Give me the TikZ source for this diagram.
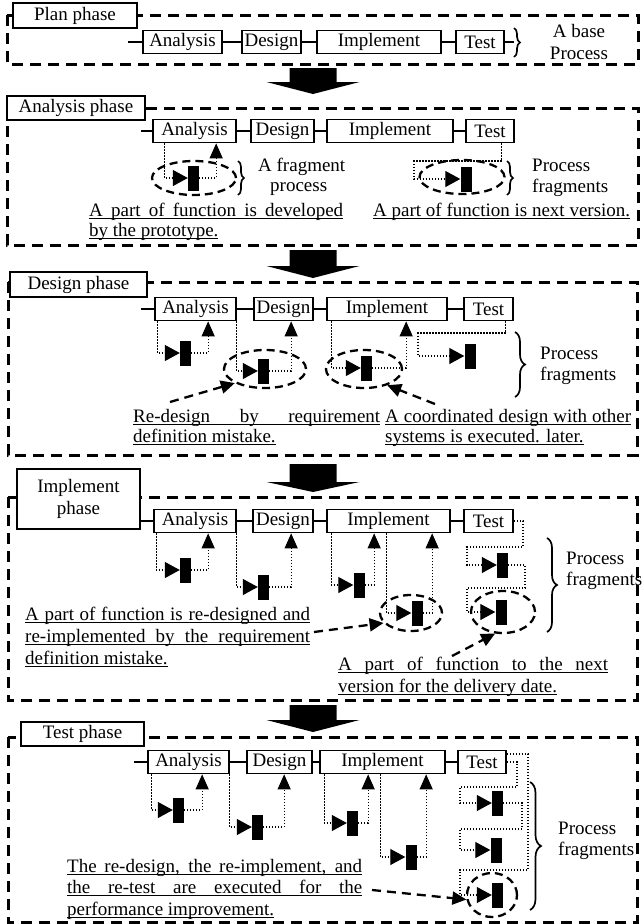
\documentclass[tikz,border=0pt]{standalone}
\usepackage{fontspec}
\setmainfont{Liberation Serif}
\usetikzlibrary{arrows.meta,shapes.geometric,decorations.pathreplacing}

% underlined text: natural width, or stretched to a given width
\newsavebox\ulinebox
\newcommand\ulline[1]{\sbox\ulinebox{#1}\usebox\ulinebox\llap{\rule[-2.7pt]{\wd\ulinebox}{0.9pt}}}
\newcommand\uljust[2]{\ulline{\makebox[#1][s]{#2}}}

% process step box: name, left x, right x, centre y, text
\newcommand\procbox[5]{\node[pbox, minimum width={(#3-#2)*1pt}] (#1) at ({(#2+#3)/2},#4) {#5};}
% phase title box: name, left x, right x, top y, bottom y, text
\newcommand\phasebox[6]{\node[ptitle, minimum width={(#3-#2)*1pt}, minimum height={(#5-#4)*1pt}] (#1) at ({(#2+#3)/2},{(#4+#5)/2}) {#6};}
% thick block arrow between phases: top y, shoulder y, tip y
\newcommand\bigdown[3]{\fill (289.5,#1) -- (336.5,#1) -- (336.5,#2) -- (359.5,#2) -- (313,#3) -- (266.5,#2) -- (289.5,#2) -- cycle;}

\tikzset{
  panelframe/.style={draw, line width=3pt, dash pattern=on 11pt off 7pt},
  ptitle/.style={draw, line width=2.6pt, fill=white, inner sep=0pt, align=center},
  pbox/.style={draw, line width=1.7pt, fill=white, inner sep=0pt, minimum height=23pt},
  link/.style={line width=1.4pt},
  dotln/.style={line width=1.2pt, dash pattern=on 1.2pt off 1.8pt},
  upto/.style={dotln, -{Triangle[length=15pt,width=13pt]}},
  intobar/.style={dotln, -{Triangle[length=15pt,width=16pt]}},
  bar/.style={fill=black, inner sep=0pt, minimum width=11pt, minimum height=25pt},
  focus/.style={draw, ellipse, line width=2.3pt, dash pattern=on 8pt off 5pt, inner sep=0pt},
  pointer/.style={line width=2.3pt, dash pattern=on 9pt off 6pt, -{Triangle[length=14pt,width=13pt]}},
  brc/.style={decorate, decoration={brace, amplitude=#1}, line width=1.7pt},
  brc/.default=8pt,
  note/.style={anchor=base west, inner sep=0pt},
  lbl/.style={anchor=west, align=left, inner sep=0pt},
}

\begin{document}
\begin{tikzpicture}[x=1pt, y=-1pt, font=\fontsize{19}{21.5}\selectfont]
\path[use as bounding box] (0,0) rectangle (643,924);

% ---------------- Plan phase ----------------
\draw[panelframe] (7,15) rectangle (638,64);
\phasebox{ttl1}{13}{137}{3}{28}{Plan phase}
\procbox{a1}{143}{222}{42}{Analysis}
\procbox{d1}{242}{301}{42}{Design}
\procbox{i1}{317}{441}{42}{Implement}
\procbox{t1}{456}{504}{42}{Test}
\draw[link] (a1.west) -- ++(-14,0);
\draw[link] (a1.east) -- (d1.west);
\draw[link] (d1.east) -- (i1.west);
\draw[link] (i1.east) -- (t1.west);
\coordinate (br1) at (514,42);
\draw[link] (t1.east) -- (br1);
\draw[brc=6pt] (514,28) -- (514,57);
\node[align=center, inner sep=0pt] (l1) at (579,42) {A base\\Process};

% ---------------- Analysis phase ----------------
\bigdown{68}{82}{94}
\draw[panelframe] (7,108) rectangle (638,245);
\phasebox{ttl2}{7}{145}{96}{120}{Analysis phase}
\procbox{a2}{153}{236}{131}{Analysis}
\procbox{d2}{251}{314}{131}{Design}
\procbox{i2}{327}{453}{131}{Implement}
\procbox{t2}{466}{514}{131}{Test}
\draw[link] (a2.west) -- ++(-11,0);
\draw[link] (a2.east) -- (d2.west);
\draw[link] (d2.east) -- (i2.west);
\draw[link] (i2.east) -- (t2.west);

\node[focus, minimum width=84pt, minimum height=34pt] (e2a) at (194,178) {};
\node[bar] (b2a) at (193.5,178) {};
\draw[intobar] ([xshift=12pt]a2.south west) |- (b2a.west);
\draw[upto] (b2a.east) -| ([xshift=64pt]a2.south west);
\draw[brc=6pt] (238,161) -- (238,195);
\node[lbl] (l2a) at (258,167) {A fragment};
\node[lbl] (l2b) at (270,189) {process};

\node[focus, minimum width=85pt, minimum height=34pt] (e2b) at (462,177) {};
\node[bar] (b2b) at (466,179) {};
\coordinate (w2b) at (414,161);
\draw[intobar] ([xshift=-13pt]t2.south east) |- (w2b) |- (b2b.west);
\draw[brc=6pt] (507,161) -- (507,195);
\node[lbl] (l2c) at (532,178) {Process\\fragments};

\node[note] (n2a1) at (89,216) {\uljust{254pt}{A part of function is developed}};
\node[note] (n2a2) at (89,236) {\ulline{by the prototype.}};
\node[note] (n2b1) at (373,216) {\ulline{A part of function is next version.}};

% ---------------- Design phase ----------------
\bigdown{250}{266}{278}
\draw[panelframe] (8,282) rectangle (637,455);
\phasebox{ttl3}{10}{147}{272}{297}{Design phase}
\procbox{a3}{155}{236}{309}{Analysis}
\procbox{d3}{254}{313}{309}{Design}
\procbox{i3}{327}{447}{309}{Implement}
\procbox{t3}{464}{513}{309}{Test}
\draw[link] (a3.west) -- ++(-13,0);
\draw[link] (a3.east) -- (d3.west);
\draw[link] (d3.east) -- (i3.west);
\draw[link] (i3.east) -- (t3.west);

\node[bar] (b3a) at (185.5,353) {};
\draw[intobar] ([xshift=3pt]a3.south west) |- (b3a.west);
\draw[upto] (b3a.east) -| ([xshift=54pt]a3.south west);

\node[focus, minimum width=82pt, minimum height=38pt] (e3b) at (265,369) {};
\node[bar] (b3b) at (263.5,371) {};
\draw[intobar] (a3.south east) |- (b3b.west);
\draw[upto] (b3b.east) -| ([xshift=38pt]d3.south west);

\node[focus, minimum width=76pt, minimum height=38pt] (e3c) at (364,369) {};
\node[bar] (b3c) at (366.5,368) {};
\draw[intobar] ([xshift=5pt]i3.south west) |- (b3c.west);
\draw[upto] (b3c.east) -| ([xshift=80pt]i3.south west);

\node[bar] (b3d) at (470,356) {};
\coordinate (w3d) at (418,333);
\draw[intobar] ([xshift=-8pt]t3.south east) |- (w3d) |- (b3d.west);
\draw[brc=10pt] (515,332) -- (515,397);
\node[lbl] (l3) at (540,366) {Process\\fragments};

\node[note] (n3a1) at (133,422) {\uljust{247pt}{Re-design by requirement}};
\node[note] (n3a2) at (133,442) {\ulline{definition mistake.}};
\node[note] (n3b1) at (385,422) {\uljust{246pt}{A coordinated design with other}};
\node[note] (n3b2) at (385,442) {\ulline{systems is executed. later.}};
\coordinate (p3a) at (170,402);
\draw[pointer] (p3a) -- (e3b.205);
\coordinate (p3b) at (435,404);
\draw[pointer] (p3b) -- (e3c.325);

% ---------------- Implement phase ----------------
\bigdown{464}{482}{492}
\draw[panelframe] (8,497) rectangle (637,700);
\phasebox{ttl4}{17}{140}{469}{529}{Implement\\phase}
\procbox{a4}{154}{236}{521}{Analysis}
\procbox{d4}{253}{313}{521}{Design}
\procbox{i4}{327}{450}{521}{Implement}
\procbox{t4}{464}{513}{521}{Test}
\draw[link] (ttl4.east |- a4.west) -- (a4.west);
\draw[link] (a4.east) -- (d4.west);
\draw[link] (d4.east) -- (i4.west);
\draw[link] (i4.east) -- (t4.west);

\node[bar] (b4a) at (185.5,570) {};
\draw[intobar] ([xshift=3pt]a4.south west) |- (b4a.west);
\draw[upto] (b4a.east) -| ([xshift=55pt]a4.south west);

\node[bar] (b4b) at (263.5,587) {};
\draw[intobar] (a4.south east) |- (b4b.west);
\draw[upto] (b4b.east) -| ([xshift=39pt]d4.south west);

\node[bar] (b4c) at (359,585) {};
\draw[intobar] ([xshift=5pt]i4.south west) |- (b4c.west);
\draw[upto] (b4c.east) -| ([xshift=48pt]i4.south west);

\node[focus, minimum width=62pt, minimum height=36pt] (e4d) at (411,613) {};
\node[bar] (b4d) at (417,613) {};
\draw[intobar] ([xshift=60pt]i4.south west) |- (b4d.west);
\draw[upto] (b4d.east) -| ([xshift=106pt]i4.south west);

\node[bar] (b4e) at (502.5,565) {};
\coordinate (w4a) at (523,547);
\coordinate (w4b) at (467,565);
\draw[intobar] (t4.east) -| (w4a) -| (w4b) -- (b4e.west);

\node[focus, minimum width=64pt, minimum height=42pt] (e4f) at (503,612) {};
\node[bar] (b4f) at (501,612) {};
\coordinate (w4c) at (525,588);
\coordinate (w4d) at (467,612);
\draw[intobar] (b4e.east) -| (w4c) -| (w4d) -- (b4f.west);

\draw[brc=10pt] (547,538) -- (547,632);
\node[lbl] (l4) at (566,571) {Process\\fragments};

\node[note] (n4a1) at (25,620) {\uljust{285pt}{A part of function is re-designed and}};
\node[note] (n4a2) at (25,642) {\uljust{285pt}{re-implemented by the requirement}};
\node[note] (n4a3) at (25,664) {\ulline{definition mistake.}};
\node[note] (n4b1) at (338,670) {\uljust{270pt}{A part of function to the next}};
\node[note] (n4b2) at (338,692) {\ulline{version for the delivery date.}};
\coordinate (p4d) at (314,632);
\draw[pointer] (p4d) -- (e4d.200);
\coordinate (p4f) at (452,656);
\draw[pointer] (p4f) -- (e4f.250);

% ---------------- Test phase ----------------
\bigdown{705}{720}{732}
\draw[panelframe] (8,737) rectangle (637,922);
\phasebox{ttl5}{21}{144}{722}{746}{Test phase}
\procbox{a5}{148}{229}{762}{Analysis}
\procbox{d5}{247}{312}{762}{Design}
\procbox{i5}{320}{445}{762}{Implement}
\procbox{t5}{458}{506}{762}{Test}
\draw[link] (a5.west) -- ++(-13,0);
\draw[link] (a5.east) -- (d5.west);
\draw[link] (d5.east) -- (i5.west);
\draw[link] (i5.east) -- (t5.west);

\node[bar] (b5a) at (178.5,810) {};
\draw[intobar] ([xshift=4pt]a5.south west) |- (b5a.west);
\draw[upto] (b5a.east) -| ([xshift=55pt]a5.south west);

\node[bar] (b5b) at (257.5,827) {};
\draw[intobar] (a5.south east) |- (b5b.west);
\draw[upto] (b5b.east) -| ([xshift=38pt]d5.south west);

\node[bar] (b5c) at (352.5,823) {};
\draw[intobar] ([xshift=5pt]i5.south west) |- (b5c.west);
\draw[upto] (b5c.east) -| ([xshift=49pt]i5.south west);

\node[bar] (b5d) at (411,857) {};
\draw[intobar] ([xshift=61pt]i5.south west) |- (b5d.west);
\draw[upto] (b5d.east) -| ([xshift=107pt]i5.south west);

\node[bar] (b5e) at (497.5,803) {};
\coordinate (w5a) at (517,787);
\coordinate (w5b) at (460,803);
\draw[intobar] (t5.east) -| (w5a) -| (w5b) -- (b5e.west);

\node[bar] (b5f) at (496,850) {};
\coordinate (w5c) at (522,829);
\coordinate (w5d) at (460,850);
\draw[intobar] (b5e.east) -| (w5c) -| (w5d) -- (b5f.west);

\node[focus, minimum width=50pt, minimum height=44pt] (e5g) at (492,895) {};
\node[bar] (b5g) at (497.5,895) {};
\coordinate (w5e) at (528,870);
\coordinate (w5f) at (460,895);
\draw[intobar] ([yshift=8pt]t5.east) -| (w5e) -| (w5f) -- (b5g.west);

\draw[brc=11pt] (530,782) -- (530,910);
\node[lbl] (l5) at (558,841) {Process\\fragments};

\node[note] (n5a1) at (67,872) {\uljust{295pt}{The re-design, the re-implement, and}};
\node[note] (n5a2) at (67,893) {\uljust{295pt}{the re-test are executed for the}};
\node[note] (n5a3) at (67,915) {\ulline{performance improvement.}};
\coordinate (p5) at (372,890);
\draw[pointer] (p5) -- (e5g.190);
\end{tikzpicture}
\end{document}
